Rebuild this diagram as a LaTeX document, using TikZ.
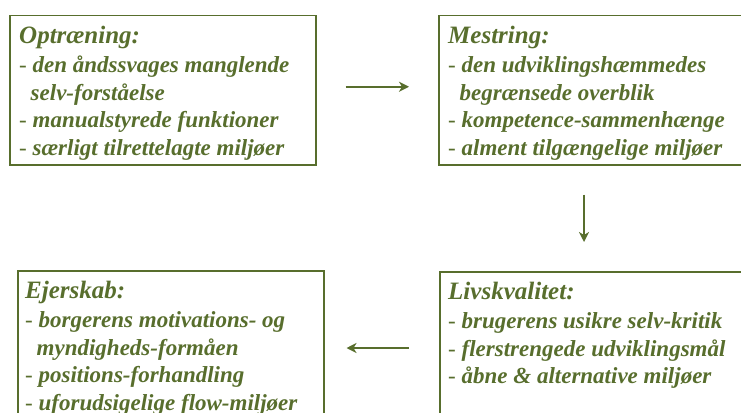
\documentclass[tikz,border=0pt]{standalone}
\usepackage{fontspec}
\setmainfont{Liberation Serif}[
  BoldFont=Liberation Serif Bold,
  ItalicFont=Liberation Serif Italic,
  BoldItalicFont=Liberation Serif Bold Italic]
\usetikzlibrary{arrows.meta}
\definecolor{olive}{RGB}{88,110,45}
\newcommand{\itemdash}{{\mdseries -} }
\newcommand{\cont}{\hspace*{0.5em}}
\newcommand{\boxtitle}[1]{{\fontsize{25}{29}\selectfont #1}\\[1.5pt]}
\begin{document}
\begin{tikzpicture}[x=1pt, y=-1pt,
  box/.style={draw=olive, line width=1.5pt, inner sep=0pt, anchor=north west},
  txt/.style={anchor=north west, inner sep=0pt, align=left, text=olive,
    font=\bfseries\itshape\fontsize{23}{27.5}\selectfont},
  flow/.style={draw=olive, line width=1.6pt,
    -{Stealth[length=10pt, width=10pt, inset=3pt]}}]
  \clip (0,0) rectangle (741,412);
  % the four boxes, the right and lower ones run past the edge
  \node[box, minimum width=306pt, minimum height=149pt] (opt) at (9,15) {};
  \node[box, minimum width=330pt, minimum height=149pt] (mes) at (438,15) {};
  \node[box, minimum width=306pt, minimum height=160pt] (ejr) at (17,270) {};
  \node[box, minimum width=330pt, minimum height=160pt] (liv) at (439,271) {};
  % texts
  \node[txt] (opttxt) at ([shift={(10,11)}]opt.north west)
    {\boxtitle{Optræning:}\itemdash den åndssvages manglende\\ \cont selv-forståelse\\
     \itemdash manualstyrede funktioner\\ \itemdash særligt tilrettelagte miljøer};
  \node[txt] (mestxt) at ([shift={(10,11)}]mes.north west)
    {\boxtitle{Mestring:}\itemdash den udviklingshæmmedes\\ \cont begrænsede overblik\\
     \itemdash kompetence-sammenhænge\\ \itemdash alment tilgængelige miljøer};
  \node[txt] (ejrtxt) at ([shift={(8,11)}]ejr.north west)
    {\boxtitle{Ejerskab:}\itemdash borgerens motivations- og\\ \cont myndigheds-formåen\\
     \itemdash positions-forhandling\\ \itemdash uforudsigelige flow-miljøer};
  \node[txt] (livtxt) at ([shift={(9,11)}]liv.north west)
    {\boxtitle{Livskvalitet:}\itemdash brugerens usikre selv-kritik\\
     \itemdash flerstrengede udviklingsmål\\ \itemdash åbne \& alternative miljøer};
  % arrows between the boxes
  \coordinate (a1) at ([yshift=3.5pt]opt.east);
  \draw[flow, shorten <=29pt, shorten >=29pt] (a1) -- (a1 -| mes.west);
  \coordinate (a2) at ([xshift=146pt]mes.south west);
  \draw[flow, shorten <=29pt, shorten >=29pt] (a2) -- (a2 |- liv.north);
  \coordinate (a3) at ([yshift=-77pt]liv.north west);
  \draw[flow, shorten <=30pt, shorten >=22pt] (a3) -- (a3 -| ejr.east);
\end{tikzpicture}
\end{document}
